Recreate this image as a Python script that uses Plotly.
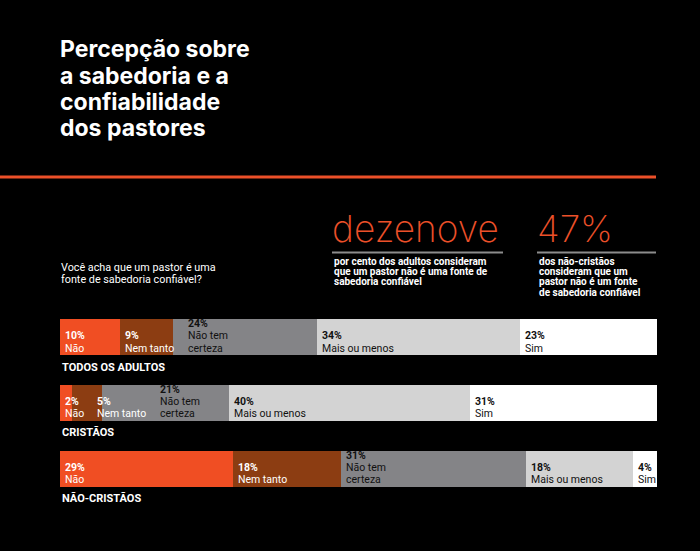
import plotly.graph_objects as go

# ---------------- data ----------------
groups = ["TODOS OS ADULTOS", "CRISTÃOS", "NÃO-CRISTÃOS"]
responses = ["Não", "Nem tanto", "Não tem certeza", "Mais ou menos", "Sim"]
response_lines = [["Não"], ["Nem tanto"], ["Não tem", "certeza"], ["Mais ou menos"], ["Sim"]]
nao = [10, 2, 29]
nem_tanto = [9, 5, 18]
nao_tem_certeza = [24, 21, 31]
mais_ou_menos = [34, 40, 18]
sim = [23, 31, 4]
series = [nao, nem_tanto, nao_tem_certeza, mais_ou_menos, sim]

title_lines = ["Percepção sobre", "a sabedoria e a", "confiabilidade", "dos pastores"]
question_lines = ["Você acha que um pastor é uma", "fonte de sabedoria confiável?"]
stat1_big = "dezenove"
stat1_lines = ["por cento dos adultos consideram", "que um pastor não é uma fonte de", "sabedoria confiável"]
stat2_big = "47%"
stat2_lines = ["dos não-cristãos", "consideram que um", "pastor não é um fonte", "de sabedoria confiável"]

# ---------------- style ----------------
W, H = 700, 551
colors = ["#F04E23", "#8C3D12", "#848487", "#D3D3D3", "#FFFFFF"]
text_colors = ["#FFFFFF", "#FFFFFF", "#111111", "#111111", "#111111"]
ORANGE = "#EC5029"
FONT = "Roboto"
TFONT = "Inter"
LABEL_SIZE = 10.5
LABEL_STEP = 12.2

def px(x):
    return x / W

def py(y):
    return (H - y) / H

# axis geometry
row_px0, row_step = 337.0, 65.75
dom_top_px, dom_bot_px = 300.0, 510.0
bar_w = 36.0 / row_step
y_top = (dom_top_px - row_px0) / row_step
y_bot = (dom_bot_px - row_px0) / row_step

fig = go.Figure()
rows = list(range(len(groups)))
for i, (name, vals) in enumerate(zip(responses, series)):
    fig.add_trace(go.Bar(
        y=rows, x=vals, name=name, orientation="h",
        marker=dict(color=colors[i], line=dict(width=0)),
        width=bar_w, hoverinfo="skip", showlegend=False,
    ))

annotations = []
shapes = []

# bar labels: stacked lines, left-aligned, resting on the bar bottom
plot_w_px = 657 - 60
for r in rows:
    total = sum(s[r] for s in series)
    cum = 0.0
    prev_end_px = -1e9
    for i, s in enumerate(series):
        v = s[r]
        start = cum / total * 100
        cum += v
        start_px = 60 + start / 100 * plot_w_px
        lines = response_lines[i]
        est_w = max(len(l) for l in lines) * LABEL_SIZE * 0.5
        lab_px = max(start_px + 4, prev_end_px + 16)
        prev_end_px = lab_px + est_w
        xval = (lab_px - 60) / plot_w_px * 100
        stack = [f"<b>{v}%</b>"] + lines
        for k, t in enumerate(reversed(stack)):
            annotations.append(dict(
                x=xval, y=r + bar_w / 2, xref="x", yref="y",
                text=t, showarrow=False, xanchor="left", yanchor="middle",
                yshift=7 + k * LABEL_STEP, borderpad=0,
                font=dict(family=FONT, size=LABEL_SIZE, color=text_colors[i]),
            ))
    annotations.append(dict(
        x=px(60), y=r + bar_w / 2, xref="paper", yref="y",
        text=f"<b>{groups[r]}</b>", showarrow=False, xanchor="left", yanchor="middle",
        yshift=-12, font=dict(family=FONT, size=11, color="#FFFFFF"),
    ))

# title
for k, t in enumerate(title_lines):
    annotations.append(dict(
        x=px(58), y=py(49.5 + k * 26.2), xref="paper", yref="paper",
        text=f"<b>{t}</b>", showarrow=False, xanchor="left", yanchor="middle",
        font=dict(family=TFONT, size=23, color="#FFFFFF"),
    ))

# orange rule
shapes.append(dict(type="line", xref="paper", yref="paper",
                   x0=0, x1=px(656), y0=py(177), y1=py(177),
                   line=dict(color=ORANGE, width=3)))

# question
for k, t in enumerate(question_lines):
    annotations.append(dict(
        x=px(59), y=py(267.5 + k * 11.6), xref="paper", yref="paper",
        text=t, showarrow=False, xanchor="left", yanchor="middle",
        font=dict(family=FONT, size=10.8, color="#FFFFFF"),
    ))

# stats
for big, lines, x0, x1 in [(stat1_big, stat1_lines, 332, 503), (stat2_big, stat2_lines, 537, 656)]:
    annotations.append(dict(
        x=px(x0 - 2), y=py(229), xref="paper", yref="paper",
        text=big, showarrow=False, xanchor="left", yanchor="middle",
        font=dict(family=TFONT, size=37, color=ORANGE, weight=200),
    ))
    shapes.append(dict(type="line", xref="paper", yref="paper",
                       x0=px(x0), x1=px(x1), y0=py(252.5), y1=py(252.5),
                       line=dict(color="#8C8C8C", width=2)))
    for k, t in enumerate(lines):
        annotations.append(dict(
            x=px(x0), y=py(261 + k * 10.4), xref="paper", yref="paper",
            text=f"<b>{t}</b>", showarrow=False, xanchor="left", yanchor="middle",
            font=dict(family=FONT, size=10, color="#FFFFFF"),
        ))

fig.update_layout(
    width=W, height=H,
    margin=dict(l=0, r=0, t=0, b=0),
    paper_bgcolor="#000000", plot_bgcolor="#000000",
    barmode="stack", barnorm="percent", bargap=0,
    xaxis=dict(domain=[px(60), px(657)], range=[0, 100], visible=False, fixedrange=True),
    yaxis=dict(domain=[py(dom_bot_px), py(dom_top_px)], range=[y_bot, y_top],
               visible=False, fixedrange=True),
    annotations=annotations, shapes=shapes,
)

fig.write_html(
    "out.html",
    config={"displayModeBar": False},
    post_script="document.body.style.margin='0';document.body.style.background='#000';",
)
